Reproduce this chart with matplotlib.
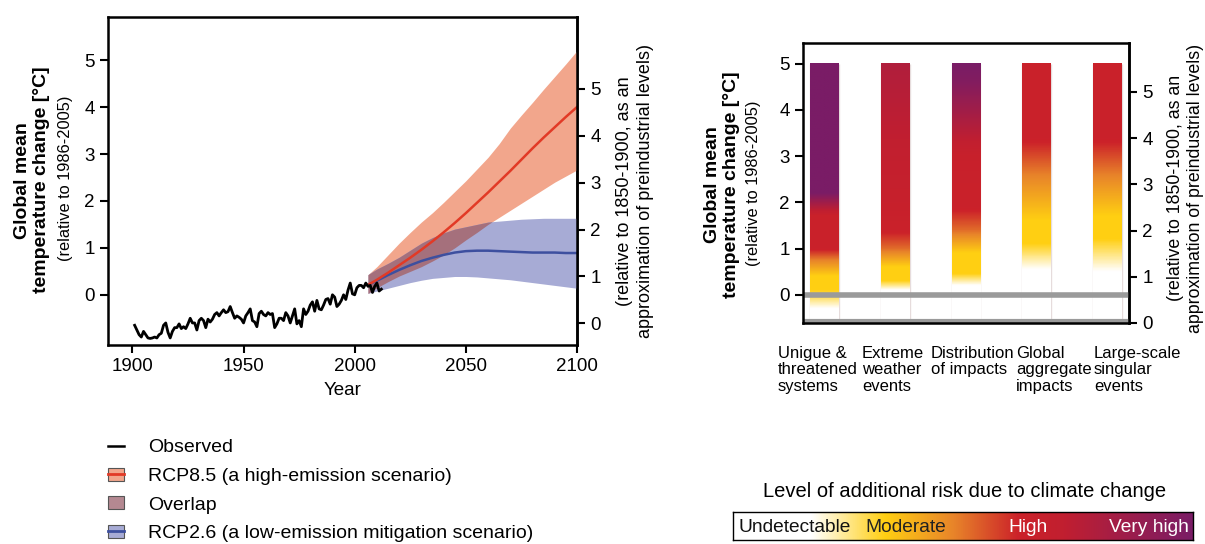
#!/usr/bin/env python3
"""Global mean temperature change and level of additional climate risk."""
import numpy as np
import matplotlib
matplotlib.use("Agg")
import matplotlib.pyplot as plt
from matplotlib.colors import LinearSegmentedColormap
from matplotlib.lines import Line2D
from matplotlib.patches import Patch

plt.rcParams["font.family"] = ["Liberation Sans", "DejaVu Sans"]

# observed anomaly (relative to 1986-2005)
obs_years = list(range(1901, 2013))
obs_vals = [
    -0.65, -0.75, -0.85, -0.90, -0.78, -0.85, -0.92, -0.93, -0.92, -0.90,
    -0.92, -0.85, -0.82, -0.65, -0.60, -0.80, -0.92, -0.78, -0.70, -0.70,
    -0.62, -0.72, -0.68, -0.72, -0.62, -0.50, -0.60, -0.60, -0.75, -0.55,
    -0.50, -0.55, -0.70, -0.52, -0.58, -0.52, -0.42, -0.38, -0.45, -0.38,
    -0.32, -0.38, -0.36, -0.25, -0.38, -0.50, -0.45, -0.48, -0.52, -0.60,
    -0.45, -0.38, -0.30, -0.55, -0.58, -0.68, -0.40, -0.35, -0.42, -0.45,
    -0.38, -0.42, -0.40, -0.70, -0.62, -0.50, -0.50, -0.55, -0.38, -0.45,
    -0.60, -0.45, -0.30, -0.62, -0.55, -0.68, -0.30, -0.42, -0.35, -0.22,
    -0.15, -0.35, -0.12, -0.30, -0.32, -0.22, -0.10, -0.08, -0.20, 0.00,
    -0.05, -0.25, -0.20, -0.12, 0.00, -0.10, 0.10, 0.25, 0.02, 0.00,
    0.15, 0.20, 0.20, 0.15, 0.25, 0.18, 0.20, 0.05, 0.18, 0.25,
    0.08, 0.12,
]

# projections
proj_years = [2006, 2010, 2015, 2020, 2025, 2030, 2035, 2040, 2045, 2050,
              2055, 2060, 2065, 2070, 2075, 2080, 2085, 2090, 2095, 2100]
rcp85_mean = [0.21, 0.32, 0.47, 0.63, 0.79, 0.96, 1.14, 1.33, 1.53, 1.74,
              1.96, 2.18, 2.41, 2.64, 2.88, 3.12, 3.35, 3.57, 3.79, 4.00]
rcp85_low = [0.03, 0.15, 0.28, 0.40, 0.50, 0.60, 0.72, 0.85, 1.00, 1.17,
             1.33, 1.50, 1.65, 1.80, 1.95, 2.10, 2.25, 2.40, 2.53, 2.66]
rcp85_high = [0.43, 0.60, 0.85, 1.10, 1.33, 1.55, 1.75, 1.97, 2.20, 2.43,
              2.68, 2.93, 3.22, 3.55, 3.83, 4.10, 4.38, 4.65, 4.92, 5.20]
rcp26_mean = [0.21, 0.30, 0.42, 0.53, 0.63, 0.72, 0.79, 0.85, 0.90, 0.93,
              0.94, 0.94, 0.93, 0.92, 0.91, 0.90, 0.90, 0.90, 0.89, 0.89]
rcp26_low = [0.03, 0.08, 0.14, 0.20, 0.26, 0.31, 0.35, 0.37, 0.39, 0.39,
             0.38, 0.36, 0.34, 0.32, 0.29, 0.26, 0.23, 0.20, 0.17, 0.14]
rcp26_high = [0.43, 0.55, 0.67, 0.80, 0.95, 1.10, 1.22, 1.32, 1.40, 1.45,
              1.50, 1.55, 1.57, 1.59, 1.61, 1.62, 1.63, 1.63, 1.63, 1.63]

# reasons for concern: temperature knots and risk level (0 undetectable .. 3 very high)
categories = ["Unigue &\nthreatened\nsystems", "Extreme\nweather\nevents",
              "Distribution\nof impacts", "Global\naggregate\nimpacts",
              "Large-scale\nsingular\nevents"]
rfc_temps = [
    [-0.3, -0.05, 0.1, 0.4, 0.75, 1.0, 1.7, 2.2, 5.0],
    [0.1, 0.3, 0.6, 1.0, 1.4, 5.0],
    [0.2, 0.45, 0.9, 1.4, 1.9, 3.0, 4.6, 5.0],
    [0.55, 1.1, 1.6, 2.6, 3.4, 5.0],
    [0.5, 1.2, 1.7, 2.6, 3.4, 5.0],
]
rfc_levels = [
    [0, 0.7, 1.0, 1.0, 1.5, 2.0, 2.0, 3.0, 3.0],
    [0, 1.0, 1.0, 1.6, 2.0, 2.4],
    [0, 1.0, 1.0, 1.6, 2.0, 2.05, 2.9, 3.0],
    [0, 1.0, 1.0, 1.5, 2.0, 2.0],
    [0, 1.0, 1.0, 1.5, 2.0, 2.0],
]
risk_names = ["Undetectable", "Moderate", "High", "Very high"]

OFFSET = 0.61  # 1986-2005 -> 1850-1900

risk_cmap = LinearSegmentedColormap.from_list("risk", [
    (0.0, "#ffffff"), (0.17, "#ffffff"), (0.33, "#ffcf12"), (0.48, "#e8842a"),
    (0.62, "#cc2229"), (0.72, "#c11f30"), (1.0, "#7a1c66")])


def level_to_pos(lev):
    return np.interp(lev, [0, 1, 2, 3], [0.17, 0.33, 0.64, 1.0])


fig = plt.figure(figsize=(12.05, 5.44), dpi=100)
TICK = 13.5

# ---------------- left panel ----------------
ax = fig.add_axes([0.0896, 0.3658, 0.3892, 0.6030])
ax.fill_between(proj_years, rcp85_low, rcp85_high, color="#f2a68c", lw=0)
ax.fill_between(proj_years, rcp26_low, rcp26_high, color="#a7abd5", lw=0)
ov_low = np.maximum(rcp85_low, rcp26_low)
ov_high = np.minimum(rcp85_high, rcp26_high)
ax.fill_between(proj_years, ov_low, ov_high, where=ov_high > ov_low,
                interpolate=True, color="#a5707c", lw=0)
ax.plot(proj_years, rcp26_mean, color="#3d4f9f", lw=1.8)
ax.plot(proj_years, rcp85_mean, color="#e23a26", lw=1.8)
ax.plot(obs_years, obs_vals, color="black", lw=2)

ax.set_xlim(1889, 2100)
ax.set_ylim(-1.07, 5.92)
ax.set_xticks([1900, 1950, 2000, 2050, 2100])
ax.set_yticks(range(6))
ax.set_xlabel("Year", fontsize=TICK, labelpad=5)
ax.tick_params(labelsize=TICK, width=1.5, length=6)
for s in ax.spines.values():
    s.set_linewidth(1.8)
sec = ax.secondary_yaxis("right", functions=(lambda y: y + OFFSET, lambda y: y - OFFSET))
sec.set_yticks(range(6))
sec.tick_params(labelsize=TICK, width=1.5, length=6)
sec.spines["right"].set_linewidth(1.8)

fig.text(0.0267, 0.669, "Global mean\ntemperature change [°C]", rotation=90,
         ha="center", va="center", fontsize=14, fontweight="bold", linespacing=1.15)
fig.text(0.054, 0.672, "(relative to 1986-2005)", rotation=90,
         ha="center", va="center", fontsize=11.8)
fig.text(0.527, 0.649, "(relative to 1850-1900, as an\napproximation of preindustrial levels)",
         rotation=90, ha="center", va="center", fontsize=13, linespacing=1.3)

handles = [
    Line2D([], [], color="black", lw=1.8),
    (Patch(facecolor="#f2a68c", edgecolor="#555555", lw=0.8), Line2D([], [], color="#e23a26", lw=2)),
    Patch(facecolor="#b48891", edgecolor="#555555", lw=0.8),
    (Patch(facecolor="#a7abd5", edgecolor="#555555", lw=0.8), Line2D([], [], color="#3d4f9f", lw=2)),
]
labels = ["Observed", "RCP8.5 (a high-emission scenario)", "Overlap",
          "RCP2.6 (a low-emission mitigation scenario)"]
fig.legend(handles, labels, loc="upper left", bbox_to_anchor=(0.0896, 0.193),
           frameon=False, fontsize=14, handlelength=0.85, handleheight=0.65,
           handletextpad=1.2, labelspacing=0.58, borderpad=0, borderaxespad=0)

# ---------------- right panel ----------------
bx = fig.add_axes([0.6664, 0.4063, 0.2705, 0.5147])
y_lo, y_hi = -0.61, 5.45
bar_w = 0.41
for i in range(len(categories)):
    bx.vlines([i - bar_w / 2, i + bar_w / 2], y_lo, 5.0, color="#e6dcdc", lw=1, zorder=0)
    yy = np.linspace(y_lo, 5.0, 400)
    pos = level_to_pos(np.interp(yy, rfc_temps[i], rfc_levels[i]))
    bx.imshow(pos[:, None], extent=(i - bar_w / 2, i + bar_w / 2, y_lo, 5.0),
              origin="lower", aspect="auto", cmap=risk_cmap, vmin=0, vmax=1, zorder=1)
bx.axhline(0, color="#9a9a9a", lw=4, zorder=2)
bx.axhline(y_lo + 0.04, color="#9a9a9a", lw=3, zorder=2)
bx.set_xlim(-0.31, 4.31)
bx.set_ylim(y_lo, y_hi)
bx.set_xticks([])
bx.set_yticks(range(6))
bx.tick_params(labelsize=TICK, width=1.5, length=6)
for s in bx.spines.values():
    s.set_linewidth(1.8)
sec2 = bx.secondary_yaxis("right", functions=(lambda y: y + OFFSET, lambda y: y - OFFSET))
sec2.set_yticks(range(6))
sec2.tick_params(labelsize=TICK, width=1.5, length=6)
sec2.spines["right"].set_linewidth(1.8)

label_x = [0.6456, 0.7154, 0.7726, 0.8432, 0.9079]
for lx, name in zip(label_x, categories):
    fig.text(lx, 0.364, name, ha="left", va="top", fontsize=12, linespacing=1.12)

fig.text(0.599, 0.66, "Global mean\ntemperature change [°C]", rotation=90,
         ha="center", va="center", fontsize=14, fontweight="bold", linespacing=1.15)
fig.text(0.625, 0.663, "(relative to 1986-2005)", rotation=90,
         ha="center", va="center", fontsize=11.8)
fig.text(0.9835, 0.654, "(relative to 1850-1900, as an\napproximation of preindustrial levels)",
         rotation=90, ha="center", va="center", fontsize=12.8, linespacing=1.22)

# risk scale
cax = fig.add_axes([0.6083, 0.0074, 0.3817, 0.0515])
cax.imshow(np.linspace(0, 1, 256)[None, :], aspect="auto", cmap=risk_cmap,
           extent=(0, 1, 0, 1))
cax.set_xticks([])
cax.set_yticks([])
for s in cax.spines.values():
    s.set_linewidth(1)
label_pos = [0.013, 0.287, 0.598, 0.817]
label_col = ["#111111", "#222222", "white", "white"]
for lx, name, c in zip(label_pos, risk_names, label_col):
    cax.text(lx, 0.45, name, ha="left", va="center", fontsize=13.8, color=c,
             transform=cax.transAxes)
fig.text(0.8008, 0.096, "Level of additional risk due to climate change",
         ha="center", va="center", fontsize=14.5)

fig.savefig("out.png", dpi=100)
